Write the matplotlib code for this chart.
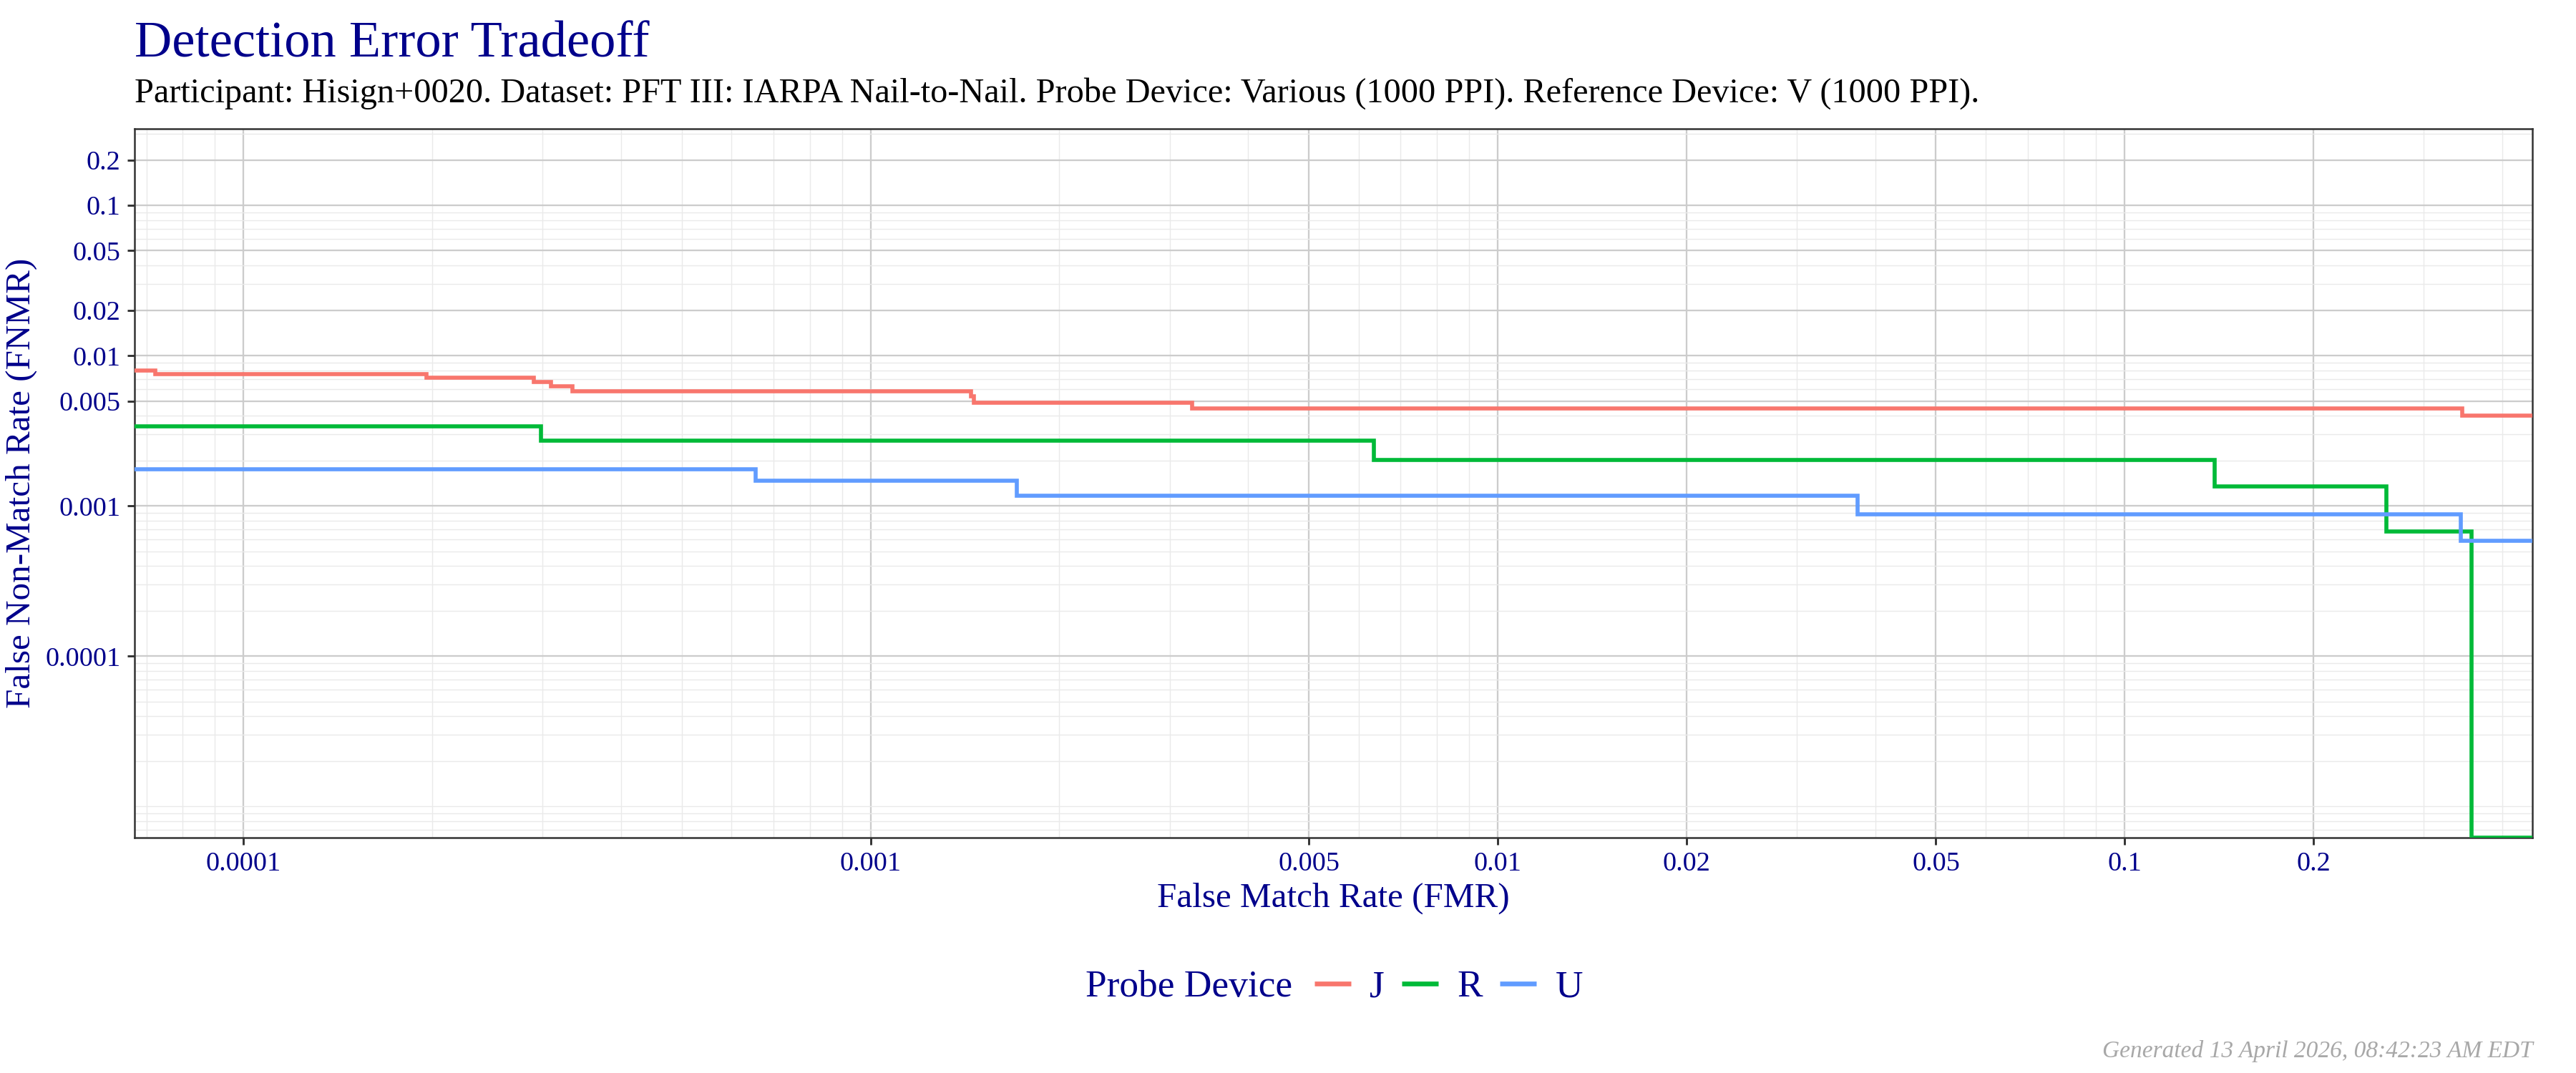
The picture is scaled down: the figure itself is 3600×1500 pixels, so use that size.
import numpy as np
import matplotlib
matplotlib.use('Agg')
import matplotlib.pyplot as plt
from matplotlib.ticker import FixedLocator, FixedFormatter, LogLocator, NullFormatter
from matplotlib.lines import Line2D

plt.rcParams['font.family'] = ['Liberation Serif', 'DejaVu Serif']

# step curves: each FNMR value holds from its FMR to the next one
fmr_J = [5e-5, 7.24e-5, 1.96e-4, 2.90e-4, 3.09e-4, 3.35e-4, 1.445e-3, 1.46e-3, 3.26e-3, 0.345]
fnmr_J = [0.0080, 0.00756, 0.00711, 0.00667, 0.00624, 0.00581, 0.00535, 0.00489, 0.00446, 0.00399]

fmr_R = [5e-5, 2.98e-4, 6.35e-3, 0.139, 0.2613, 0.357]
fnmr_R = [0.00338, 0.00271, 0.00202, 0.00135, 0.000676, 0.0]

fmr_U = [5e-5, 6.55e-4, 1.713e-3, 0.0375, 0.344]
fnmr_U = [0.00175, 0.00147, 0.001165, 0.00088, 0.000586]

devices = ['J', 'R', 'U']
colors = ['#F8766D', '#00BA38', '#619CFF']

tick_values = [0.0001, 0.001, 0.005, 0.01, 0.02, 0.05, 0.1, 0.2]
tick_labels = ['0.0001', '0.001', '0.005', '0.01', '0.02', '0.05', '0.1', '0.2']

x_limits = (6.7e-5, 0.447)
y_limits = (6.2e-6, 0.324)

title_color = '#00008B'
title = 'Detection Error Tradeoff'
subtitle = ('Participant: Hisign+0020. Dataset: PFT III: IARPA Nail-to-Nail. '
            'Probe Device: Various (1000 PPI). Reference Device: V (1000 PPI).')
caption = 'Generated 13 April 2026, 08:42:23 AM EDT'

fig = plt.figure(figsize=(12, 5), dpi=300)
fig.subplots_adjust(left=0.0522, right=0.9831, bottom=0.2193, top=0.88)
ax = fig.add_subplot(111)

curves = [(fmr_J, fnmr_J), (fmr_R, fnmr_R), (fmr_U, fnmr_U)]
for (fmr, fnmr), col in zip(curves, colors):
    x = list(fmr) + [x_limits[1] * 2]
    y = list(fnmr) + [fnmr[-1]]
    # zero FNMR sits on the lower edge of the log axis
    y = [v if v > 0 else y_limits[0] for v in y]
    ax.step(x, y, where='post', color=col, lw=1.35, solid_joinstyle='miter', zorder=3)

ax.set_xscale('log')
ax.set_yscale('log')
ax.set_xlim(*x_limits)
ax.set_ylim(*y_limits)

for axis in (ax.xaxis, ax.yaxis):
    axis.set_major_locator(FixedLocator(tick_values))
    axis.set_major_formatter(FixedFormatter(tick_labels))
    axis.set_minor_locator(LogLocator(base=10, subs=np.arange(1, 10), numticks=60))
    axis.set_minor_formatter(NullFormatter())

ax.set_axisbelow(True)
ax.grid(which='major', color='#CCCCCC', lw=0.55)
ax.grid(which='minor', color='#EAEAEA', lw=0.35)

ax.tick_params(which='major', length=2.3, width=0.7, color='#333333',
               labelsize=9.2, labelcolor=title_color, pad=2.4)
ax.tick_params(which='minor', length=0)
for sp in ax.spines.values():
    sp.set_color('#333333')
    sp.set_linewidth(0.6)

# titles
fig.text(0.0522, 0.9467, title, fontsize=17.4, color=title_color, va='baseline', ha='left')
fig.text(0.0522, 0.9047, subtitle, fontsize=11.6, color='black', va='baseline', ha='left')

# axis titles
panel_cx = (0.0522 + 0.9831) / 2
fig.text(panel_cx, 0.1547, 'False Match Rate (FMR)', fontsize=11.8, color=title_color,
         ha='center', va='baseline')
fig.text(0.0083, (0.2193 + 0.88) / 2, 'False Non-Match Rate (FNMR)', fontsize=11.8,
         color=title_color, rotation=90, ha='center', va='center')

# legend along the bottom, title to the left of the keys
legend_y = 1 - 1380 / 1500
fig.text(1806 / 3600, legend_y, 'Probe Device', fontsize=12.8, color=title_color,
         ha='right', va='center')
handles = [Line2D([], [], color=c, lw=1.6, solid_capstyle='butt') for c in colors]
leg = fig.legend(handles, devices, loc='center left', bbox_to_anchor=(1837 / 3600, legend_y),
                 ncol=3, frameon=False, fontsize=12.8, handlelength=0.95, handletextpad=0.5,
                 columnspacing=0.45, borderpad=0, borderaxespad=0)
for t in leg.get_texts():
    t.set_color(title_color)

fig.text(0.9833, 0.0147, caption, fontsize=8, color='#A8A8A8', style='italic',
         ha='right', va='baseline')

fig.savefig('out.png', dpi=300, facecolor='white')
